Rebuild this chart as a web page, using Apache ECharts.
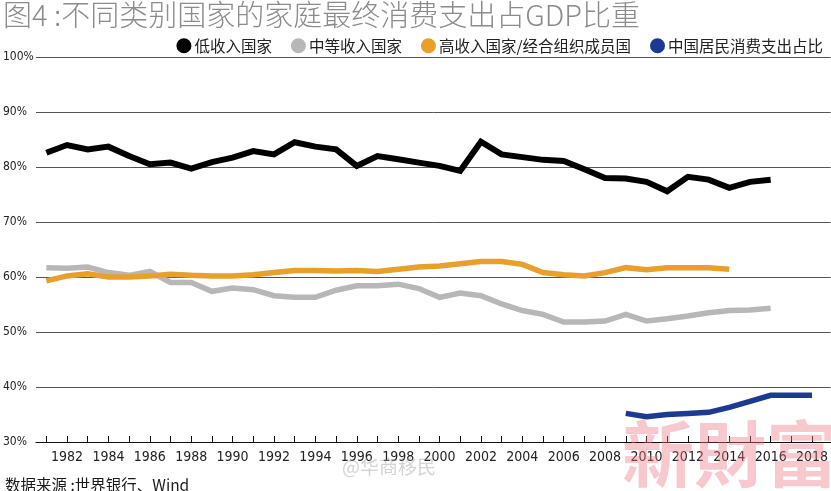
<!DOCTYPE html>
<html>
<head>
<meta charset="utf-8">
<script src="https://cdn.jsdelivr.net/npm/echarts@6/dist/echarts.min.js"></script>
<style>
html,body{margin:0;padding:0;background:#fff;}
#chart{width:831px;height:491px;}
</style>
</head>
<body>
<div id="chart"></div>
<script>
// ---- data ----
var years = [1981,1982,1983,1984,1985,1986,1987,1988,1989,1990,1991,1992,1993,1994,1995,1996,1997,1998,1999,2000,
             2001,2002,2003,2004,2005,2006,2007,2008,2009,2010,2011,2012,2013,2014,2015,2016,2017,2018];
var yearLabels = [1982,1984,1986,1988,1990,1992,1994,1996,1998,2000,2002,2004,2006,2008,2010,2012,2014,2016,2018];
var yTicks = [30,40,50,60,70,80,90,100];
var seriesNames = ['低收入国家','中等收入国家','高收入国家/经合组织成员国','中国居民消费支出占比'];
// 低收入国家 1981-2016
var lowIncome = [82.6,84.0,83.2,83.7,82.0,80.5,80.8,79.7,80.9,81.7,82.9,82.3,84.5,83.7,83.2,80.2,82.0,81.4,80.8,80.2,
                 79.3,84.6,82.3,81.8,81.3,81.1,79.6,78.0,77.9,77.3,75.6,78.2,77.7,76.2,77.3,77.7];
// 中等收入国家 1981-2016
var middleIncome = [61.7,61.6,61.8,60.8,60.3,61.0,59.0,59.0,57.4,58.0,57.7,56.6,56.3,56.3,57.6,58.4,58.4,58.7,57.9,56.3,
                    57.1,56.6,55.1,53.9,53.2,51.8,51.8,52.0,53.2,52.0,52.4,52.9,53.5,53.9,54.0,54.3];
// 高收入国家/经合组织成员国 1981-2014
var highIncome = [59.3,60.2,60.6,60.0,60.0,60.2,60.5,60.3,60.2,60.2,60.4,60.8,61.2,61.2,61.1,61.2,61.0,61.4,61.8,62.0,
                  62.4,62.8,62.8,62.3,60.8,60.4,60.2,60.8,61.7,61.3,61.7,61.7,61.7,61.4];
// 中国居民消费支出占比 2009-2018
var chinaYears = [2009,2010,2011,2012,2013,2014,2015,2016,2017,2018];
var china = [35.2,34.6,35.0,35.2,35.4,36.3,37.4,38.5,38.5,38.5];

function pairs(xs, vs){ var out=[]; for (var i=0;i<vs.length;i++) out.push([xs[i], vs[i]]); return out; }

var colors = ['#000000','#b7b7b7','#e89f2c','#1c3a92'];
var cjk = '"Noto Sans CJK SC", "Noto Sans", sans-serif';
var narrow = '"DejaVu Sans Condensed", "Liberation Sans Narrow", sans-serif';

var chart = echarts.init(document.getElementById('chart'), null, {renderer:'canvas'});
var mk = function(name, data, color, w, z){
  return {name:name, type:'line', data:data, symbol:'none', showSymbol:false, z:z,
    lineStyle:{color:color, width:w, join:'miter'}, itemStyle:{color:color}, animation:false};
};
chart.setOption({
  animation:false,
  backgroundColor:'#ffffff',
  color: colors,
  title:[{
    text:'图4 :不同类别国家的家庭最终消费支出占GDP比重',
    left:-2, top:-5,
    textStyle:{fontFamily:cjk, fontSize:29, fontWeight:300, color:'#8c8c8c'}
  },{
    text:'数据来源 :世界银行、Wind',
    left:0, top:472,
    textStyle:{fontFamily:cjk, fontSize:15.5, fontWeight:'normal', color:'#1a1a1a'}
  }],
  legend:{
    right:3, top:33,
    icon:'circle', itemWidth:15, itemHeight:15, itemGap:19,
    textStyle:{fontFamily:cjk, fontSize:15.5, color:'#222', padding:[0,0,0,-2]},
    data: seriesNames
  },
  grid:{left:33, right:0, top:57, bottom:49, containLabel:false},
  xAxis:{
    type:'value', min:1980.5, max:2018.9,
    splitLine:{show:false},
    axisLine:{show:true, onZero:false, lineStyle:{color:'#111', width:1.2}},
    axisTick:{show:true, inside:true, length:6, customValues: years, lineStyle:{color:'#111', width:1}},
    axisLabel:{customValues: yearLabels, margin:8, fontFamily:narrow, fontSize:14, color:'#222',
      formatter:function(v){return String(v);}}
  },
  yAxis:{
    type:'value', min:30, max:100, interval:10,
    axisLine:{show:false}, axisTick:{show:false},
    splitLine:{show:true, lineStyle:{color:'#555', width:1}},
    axisLabel:{align:'left', margin:33, fontFamily:narrow, fontSize:12, color:'#222',
      formatter:function(v){return v + '%';}}
  },
  series:[
    mk(seriesNames[0], pairs(years, lowIncome), colors[0], 6, 5),
    mk(seriesNames[1], pairs(years, middleIncome), colors[1], 5.5, 3),
    mk(seriesNames[2], pairs(years, highIncome), colors[2], 5.5, 4),
    mk(seriesNames[3], pairs(chinaYears, china), colors[3], 5.5, 6)
  ],
  graphic:[
    {type:'text', left:622, top:418, z:100, silent:true,
      style:{text:'新財富', fontFamily:'"Noto Sans CJK TC", sans-serif', fontWeight:'bold', fontSize:72,
        fill:'rgba(235,120,132,0.4)'}},
    {type:'text', left:342, top:457, z:100, silent:true,
      style:{text:'@华商移民', fontFamily:cjk, fontSize:19, fill:'rgba(160,160,160,0.45)'}}
  ]
});
</script>
</body>
</html>
